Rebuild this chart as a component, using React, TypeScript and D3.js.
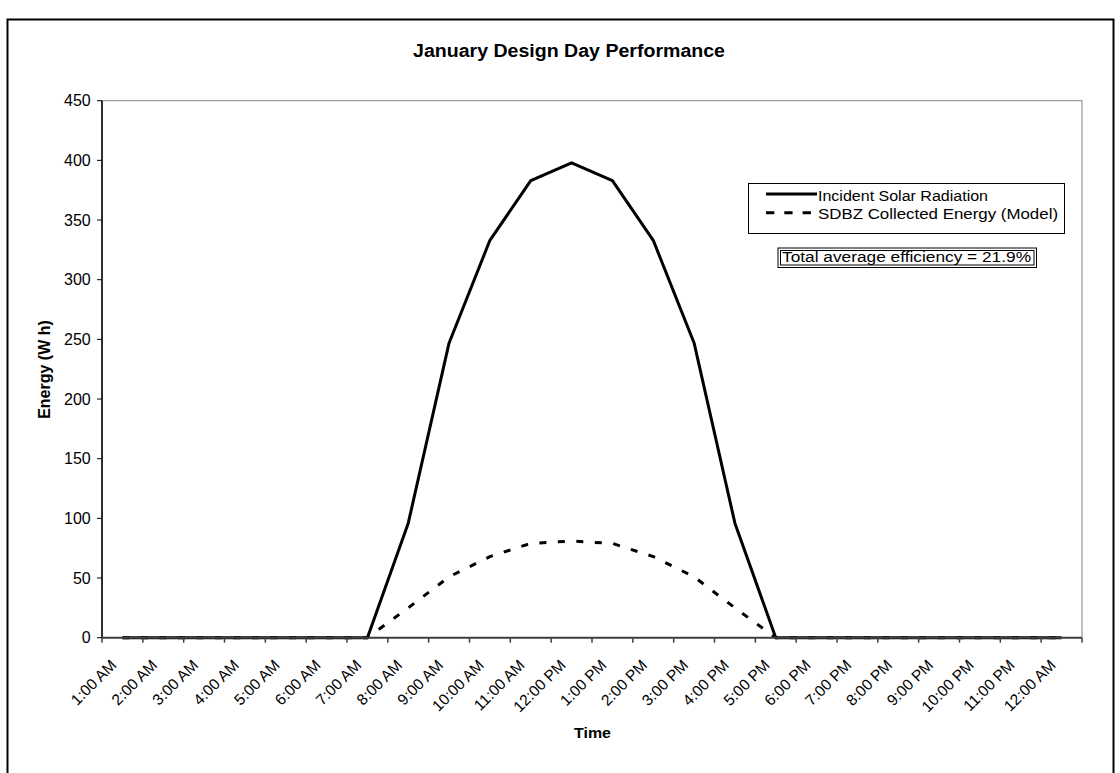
import React from "react";
import * as d3 from "d3";

const categories = [
  "1:00 AM", "2:00 AM", "3:00 AM", "4:00 AM", "5:00 AM", "6:00 AM",
  "7:00 AM", "8:00 AM", "9:00 AM", "10:00 AM", "11:00 AM", "12:00 PM",
  "1:00 PM", "2:00 PM", "3:00 PM", "4:00 PM", "5:00 PM", "6:00 PM",
  "7:00 PM", "8:00 PM", "9:00 PM", "10:00 PM", "11:00 PM", "12:00 AM",
];
const incidentSolar = [
  0, 0, 0, 0, 0, 0, 0, 96, 247, 333, 383, 398,
  383, 333, 247, 96, 0, 0, 0, 0, 0, 0, 0, 0,
];
const collectedEnergy = [
  0, 0, 0, 0, 0, 0, 0, 25, 51, 68, 79, 81,
  79, 68, 51, 25, 0, 0, 0, 0, 0, 0, 0, 0,
];
const yTicks = [0, 50, 100, 150, 200, 250, 300, 350, 400, 450];
const seriesNames = ["Incident Solar Radiation", "SDBZ Collected Energy (Model)"];
const titleText = "January Design Day Performance";
const xTitle = "Time";
const yTitle = "Energy (W h)";
const noteText = "Total average efficiency = 21.9%";

const W = 1120;
const H = 773;
const left = 102;
const right = 1082;
const top = 100.7;
const bottom = 637.7;
const FONT = "Arial, 'Liberation Sans', Helvetica, sans-serif";

export default function App() {
  const x = d3.scaleBand<string>().domain(categories).range([left, right]).padding(0);
  const y = d3.scaleLinear().domain([0, 450]).range([bottom, top]);
  const cx = (c: string) => (x(c) as number) + x.bandwidth() / 2;

  const line = d3
    .line<number>()
    .x((_, i) => cx(categories[i]))
    .y((v) => y(v));

  const boundaries = categories.map((c) => x(c) as number).concat([right]);

  return (
    <svg
      width={W}
      height={H}
      viewBox={`0 0 ${W} ${H}`}
      style={{ position: "absolute", left: 0, top: 0, background: "#fff" }}
      fontFamily={FONT}
    >
      <rect x={0} y={0} width={W} height={H} fill="#fff" />
      {/* outer chart frame */}
      <rect x={7.5} y={19.5} width={1106} height={820} fill="none" stroke="#000" strokeWidth={2} />

      {/* title */}
      <text
        x={569}
        y={56.7}
        textAnchor="middle"
        fontWeight="bold"
        fontSize={17.5}
        textLength={312}
        lengthAdjust="spacingAndGlyphs"
      >
        {titleText}
      </text>

      {/* plot border */}
      <rect x={left} y={top} width={right - left} height={bottom - top} fill="none" stroke="#808080" strokeWidth={1} />

      {/* series */}
      <path d={line(incidentSolar) || ""} fill="none" stroke="#000" strokeWidth={3} strokeLinejoin="round" />
      <path d={line(collectedEnergy) || ""} fill="none" stroke="#000" strokeWidth={3} strokeDasharray="7,11.5" />

      {/* y axis */}
      <line x1={left} x2={left} y1={top} y2={bottom} stroke="#000" strokeWidth={1.5} />
      {yTicks.map((t) => (
        <g key={t}>
          <line x1={left - 5} x2={left} y1={y(t)} y2={y(t)} stroke="#000" strokeWidth={1} />
          <text x={90.7} y={y(t)} dy="0.36em" textAnchor="end" fontSize={16}>
            {t}
          </text>
        </g>
      ))}

      {/* x axis */}
      <line x1={left} x2={right} y1={bottom} y2={bottom} stroke="#404040" strokeWidth={2} />
      {boundaries.map((b, i) => (
        <line key={i} x1={b} x2={b} y1={bottom} y2={bottom + 5} stroke="#404040" strokeWidth={1.5} />
      ))}
      {categories.map((c) => (
        <text
          key={c}
          transform={`translate(${cx(c) - 5},666) rotate(-45)`}
          textAnchor="end"
          fontSize={15.5}
        >
          {c}
        </text>
      ))}

      {/* axis titles */}
      <text
        x={592.5}
        y={738.3}
        textAnchor="middle"
        fontWeight="bold"
        fontSize={15.5}
        textLength={37}
        lengthAdjust="spacingAndGlyphs"
      >
        {xTitle}
      </text>
      <text
        transform={`translate(50,369.5) rotate(-90)`}
        textAnchor="middle"
        fontWeight="bold"
        fontSize={16}
      >
        {yTitle}
      </text>

      {/* legend */}
      <rect x={748.5} y={183.5} width={316} height={50} fill="#fff" stroke="#000" strokeWidth={1} />
      <line x1={766} x2={817} y1={194} y2={194} stroke="#000" strokeWidth={3} />
      <text x={818} y={200.5} fontSize={15.5} textLength={170} lengthAdjust="spacingAndGlyphs">
        {seriesNames[0]}
      </text>
      <line x1={766} x2={813} y1={212.7} y2={212.7} stroke="#000" strokeWidth={3} strokeDasharray="8.3,10" />
      <text x={818} y={219.3} fontSize={15.5} textLength={240} lengthAdjust="spacingAndGlyphs">
        {seriesNames[1]}
      </text>

      {/* efficiency note */}
      <rect x={778} y={248} width={258.5} height={19.5} fill="#fff" stroke="#000" strokeWidth={1} />
      <rect x={780.5} y={250.5} width={253.5} height={14.5} fill="none" stroke="#000" strokeWidth={1} />
      <text x={782} y={262.3} fontSize={14} textLength={249} lengthAdjust="spacingAndGlyphs">
        {noteText}
      </text>
    </svg>
  );
}
